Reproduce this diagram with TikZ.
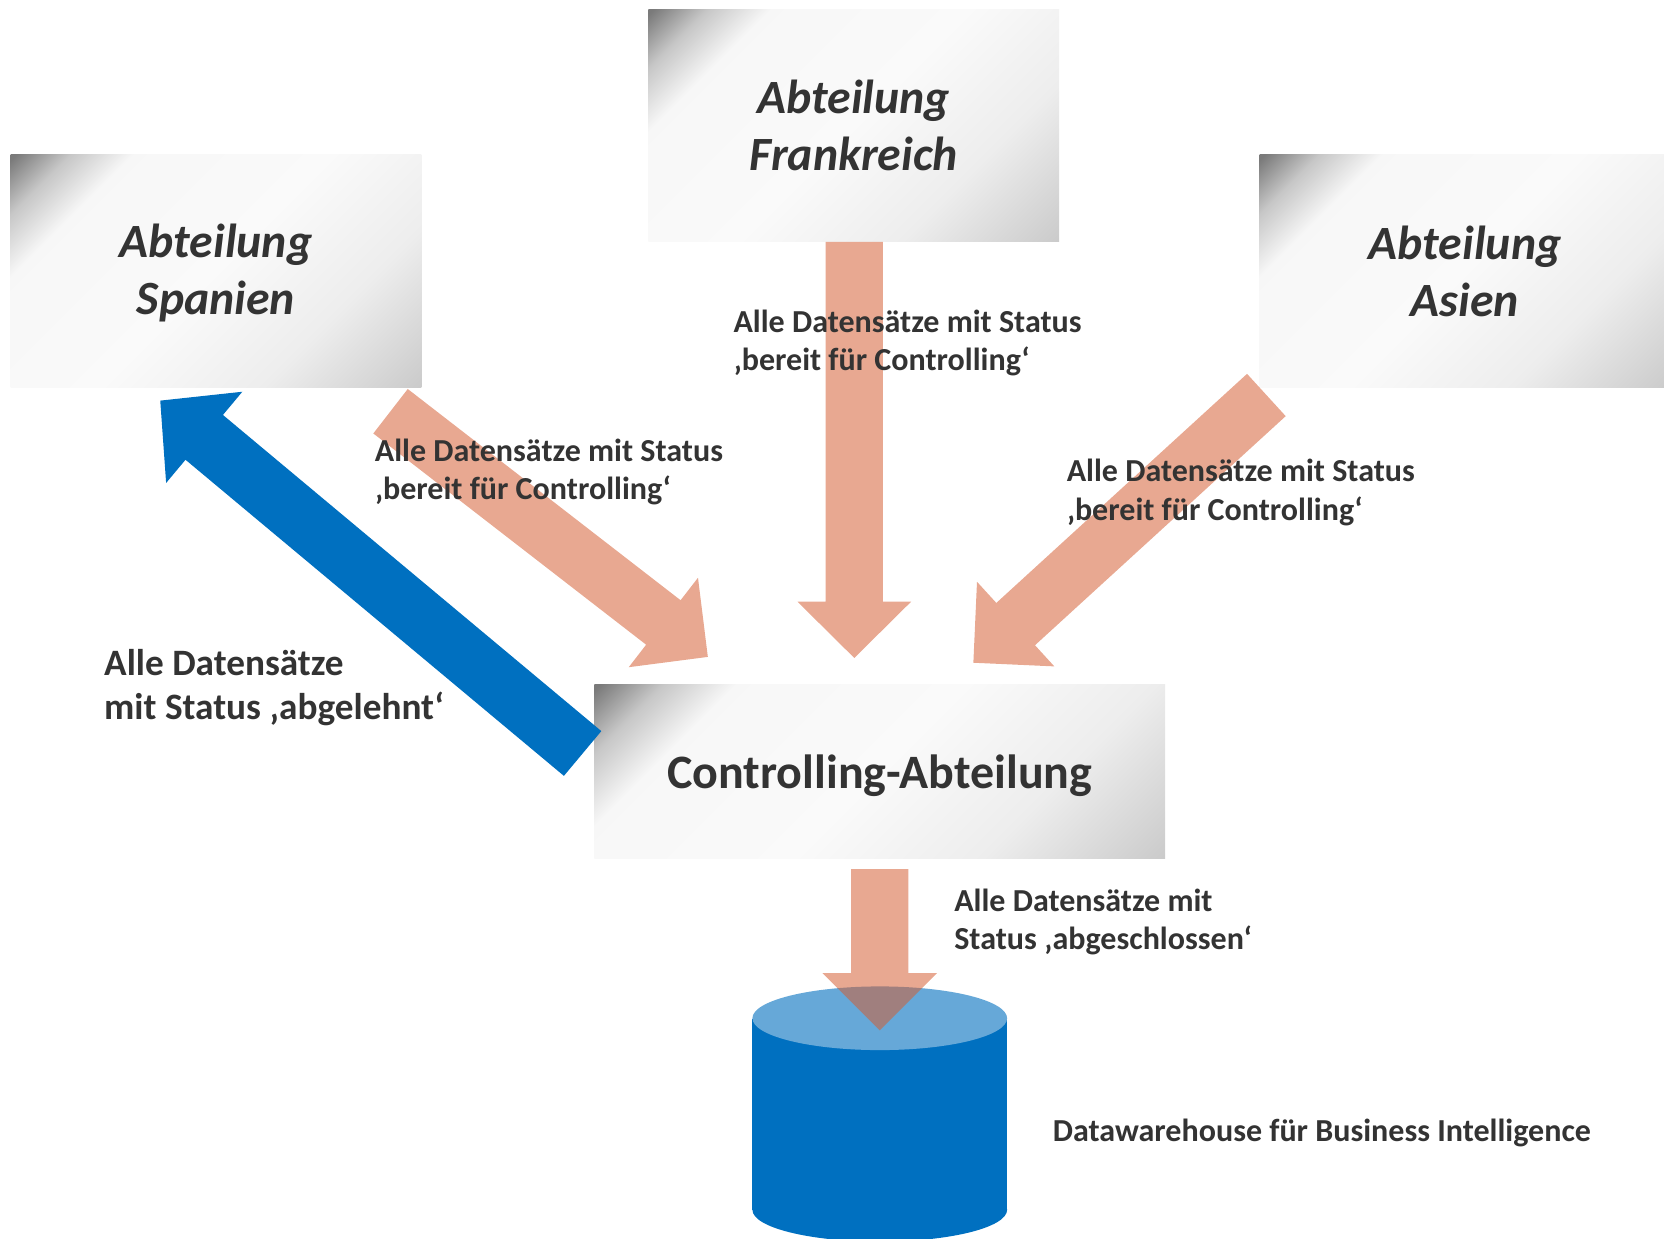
\documentclass[tikz,border=0pt]{standalone}
\usepackage{fontspec}
\setmainfont{Carlito}
\usepackage{tikz}
\usetikzlibrary{calc}

\definecolor{arrowsalmon}{RGB}{212,92,48}
\definecolor{rejectblue}{RGB}{0,112,192}
\definecolor{dwhtop}{RGB}{102,168,216}
\definecolor{txtgray}{RGB}{51,51,51}

\pgfdeclarehorizontalshading{deptshade}{100bp}{color(0bp)=(black!52); color(15bp)=(black!52); color(21bp)=(black!22); color(28bp)=(black!3); color(50bp)=(black!2); color(68bp)=(black!7); color(86bp)=(black!21); color(100bp)=(black!21)}

% block arrow: [style]{from}{to}{shaft half width}{head half width}{head length}
\newcommand{\blockarrow}[6][]{%
	\coordinate (ba-base) at ($(#3)!#6!(#2)$);
	\fill[#1] ($(#2)!#4!90:(#3)$) -- ($(ba-base)!#4!90:(#3)$) -- ($(ba-base)!#5!90:(#3)$) -- (#3)
		-- ($(ba-base)!#5!-90:(#3)$) -- ($(ba-base)!#4!-90:(#3)$) -- ($(#2)!#4!-90:(#3)$) -- cycle;
}

\begin{document}
\begin{tikzpicture}[x=1pt,y=-1pt]
\tikzstyle{dept} = [shade, shading = deptshade, shading angle = -45, minimum width = 387pt, minimum height = 219pt, inner sep = 0pt, align = center, text = txtgray, font = \fontsize{45}{54}\selectfont\bfseries\itshape]
\tikzstyle{lbl} = [anchor = west, align = left, inner sep = 0pt, text = txtgray, font = \fontsize{30.2}{36}\selectfont\bfseries]
\tikzstyle{incoming} = [fill = arrowsalmon, fill opacity = 0.535]
\tikzstyle{rejected} = [fill = rejectblue]
\useasboundingbox (0,0) rectangle (1568,1166.6);

		% departments
		\node [dept, text depth = 4pt] (spanien) at (203.5,255.5) {Abteilung\\Spanien};
		\node [dept] (frankreich) at (804.5,118.5) {Abteilung\\Frankreich};
		\node [dept] (asien) at (1380.5,255.5) {Abteilung\\Asien};
		\node [dept, minimum width = 538pt, minimum height = 164pt, text depth = 0pt, font = \fontsize{45.2}{54}\selectfont\bfseries] (controlling) at (829,727) {Controlling-Abteilung};

		% datawarehouse
		\fill [rejectblue] (709,960) rectangle (949,1140);
		\fill [rejectblue] (829,1140) ellipse [x radius = 120, y radius = 30];
		\fill [dwhtop] (829,959.5) ellipse [x radius = 120, y radius = 30];
		\coordinate (dwh) at (829,971);

		% arrow ends
		\coordinate (sp-out) at (368,387.5);
		\coordinate (fr-out) at (805,228);
		\coordinate (as-out) at (1193.3,372.2);
		\coordinate (ctl-in-sp) at (667,619);
		\coordinate (ctl-in-fr) at (805,620);
		\coordinate (ctl-in-as) at (917.2,624.5);
		\coordinate (ctl-out-sp) at (549,710);
		\coordinate (sp-in) at (151,377.5);
		\coordinate (ctl-out-dwh) at (829,819);

		\blockarrow[incoming]{sp-out}{ctl-in-sp}{26.5pt}{53.3pt}{53pt}
		\blockarrow[incoming]{fr-out}{ctl-in-fr}{27pt}{53.5pt}{53pt}
		\blockarrow[incoming]{as-out}{ctl-in-as}{27pt}{54pt}{54pt}
		\blockarrow[rejected]{ctl-out-sp}{sp-in}{27.5pt}{56pt}{54pt}
		\blockarrow[incoming]{ctl-out-dwh}{dwh}{27pt}{54pt}{54pt}

		% labels
		\node [lbl] (lbl-sp) at (353,445) {Alle Datensätze mit Status\\‚bereit für Controlling‘};
		\node [lbl] (lbl-fr) at (691,323) {Alle Datensätze mit Status\\‚bereit für Controlling‘};
		\node [lbl] (lbl-as) at (1005,464) {Alle Datensätze mit Status\\‚bereit für Controlling‘};
		\node [lbl, font = \fontsize{35.1}{42}\selectfont\bfseries] (lbl-rej) at (98,648) {Alle Datensätze\\mit Status ‚abgelehnt‘};
		\node [lbl] (lbl-dwh) at (899,869) {Alle Datensätze mit\\Status ‚abgeschlossen‘};
		\node [lbl] (dwh-name) at (992,1068) {Datawarehouse für Business Intelligence};

\end{tikzpicture}
\end{document}
